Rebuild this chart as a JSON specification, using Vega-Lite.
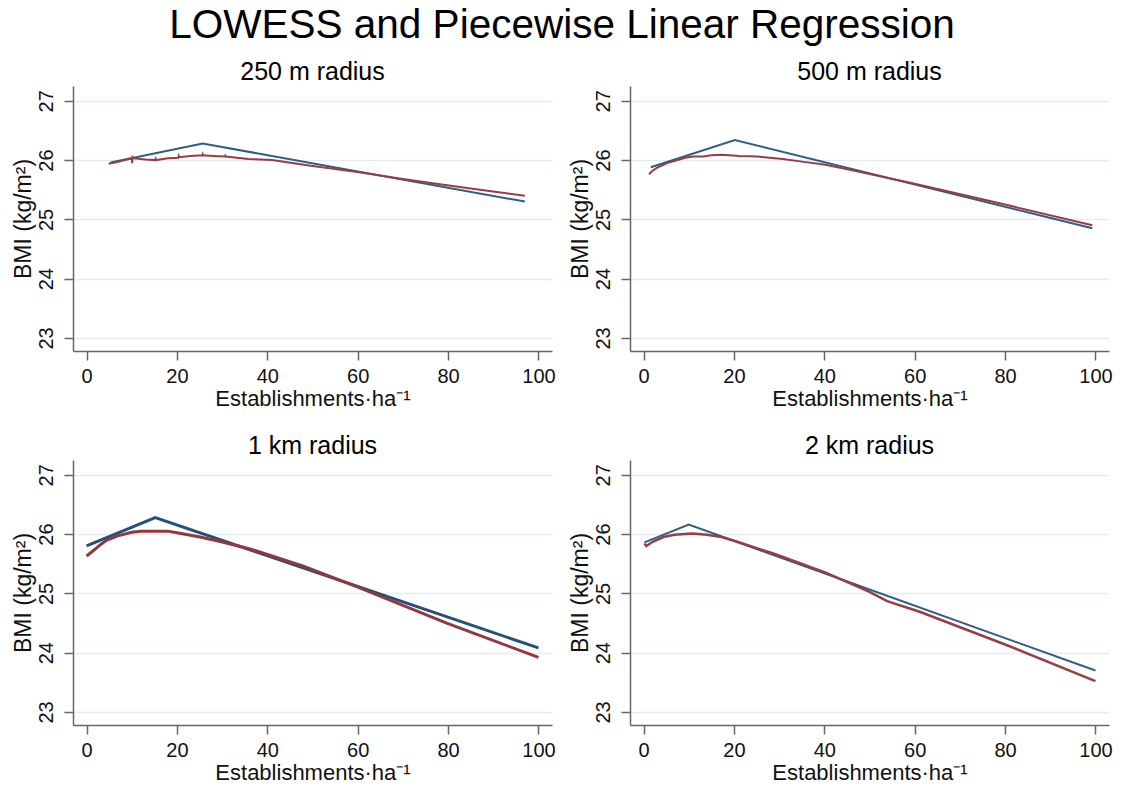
{
  "$schema": "https://vega.github.io/schema/vega-lite/v6.json",
  "background": "white",
  "padding": {"left": 11, "top": 5, "right": 5, "bottom": 5},
  "title": {"text": "LOWESS and Piecewise Linear Regression", "fontSize": 40.5, "font": "Liberation Sans", "fontWeight": "normal", "anchor": "middle", "color": "#000000", "offset": 14},
  "config": {
    "font": "Liberation Sans",
    "view": {"stroke": null},
    "title": {"fontSize": 25, "fontWeight": "normal", "font": "Liberation Sans", "color": "#000000", "offset": 1},
    "axis": {"domainColor": "#666666", "domainWidth": 1.5, "tickColor": "#666666", "tickWidth": 1.5, "tickSize": 9, "labelFontSize": 20, "titleFontSize": 22, "titleFontWeight": "normal", "labelColor": "#111111", "titleColor": "#111111", "labelFont": "Liberation Sans", "titleFont": "Liberation Sans", "labelFlush": false, "labelOverlap": false},
    "axisX": {"grid": false, "labelPadding": 6, "titlePadding": 2},
    "axisY": {"grid": true, "gridColor": "#e3edf0", "gridWidth": 1.5, "labelAngle": -90, "labelAlign": "center", "labelBaseline": "alphabetic", "labelPadding": 12, "titlePadding": 1, "titleFontSize": 23}
  },
  "data": {"values": [
    {"panel": "250 m radius", "series": "Piecewise", "i": 1, "x": 5.3, "y": 25.96},
    {"panel": "250 m radius", "series": "Piecewise", "i": 2, "x": 25.7, "y": 26.28},
    {"panel": "250 m radius", "series": "Piecewise", "i": 3, "x": 97, "y": 25.30},
    {"panel": "250 m radius", "series": "LOWESS", "i": 1, "x": 4.9, "y": 25.94},
    {"panel": "250 m radius", "series": "LOWESS", "i": 2, "x": 7, "y": 25.97},
    {"panel": "250 m radius", "series": "LOWESS", "i": 3, "x": 10, "y": 26.03},
    {"panel": "250 m radius", "series": "LOWESS", "i": 4, "x": 10.1, "y": 25.95},
    {"panel": "250 m radius", "series": "LOWESS", "i": 5, "x": 10.2, "y": 26.05},
    {"panel": "250 m radius", "series": "LOWESS", "i": 6, "x": 10.5, "y": 26.03},
    {"panel": "250 m radius", "series": "LOWESS", "i": 7, "x": 13, "y": 26.01},
    {"panel": "250 m radius", "series": "LOWESS", "i": 8, "x": 15.2, "y": 26.0},
    {"panel": "250 m radius", "series": "LOWESS", "i": 9, "x": 15.3, "y": 26.02},
    {"panel": "250 m radius", "series": "LOWESS", "i": 10, "x": 15.4, "y": 26.0},
    {"panel": "250 m radius", "series": "LOWESS", "i": 11, "x": 18, "y": 26.03},
    {"panel": "250 m radius", "series": "LOWESS", "i": 12, "x": 20.3, "y": 26.04},
    {"panel": "250 m radius", "series": "LOWESS", "i": 13, "x": 20.4, "y": 26.07},
    {"panel": "250 m radius", "series": "LOWESS", "i": 14, "x": 20.5, "y": 26.05},
    {"panel": "250 m radius", "series": "LOWESS", "i": 15, "x": 23, "y": 26.07},
    {"panel": "250 m radius", "series": "LOWESS", "i": 16, "x": 25.6, "y": 26.08},
    {"panel": "250 m radius", "series": "LOWESS", "i": 17, "x": 25.7, "y": 26.1},
    {"panel": "250 m radius", "series": "LOWESS", "i": 18, "x": 25.8, "y": 26.08},
    {"panel": "250 m radius", "series": "LOWESS", "i": 19, "x": 28, "y": 26.07},
    {"panel": "250 m radius", "series": "LOWESS", "i": 20, "x": 30.6, "y": 26.06},
    {"panel": "250 m radius", "series": "LOWESS", "i": 21, "x": 30.7, "y": 26.075},
    {"panel": "250 m radius", "series": "LOWESS", "i": 22, "x": 30.8, "y": 26.06},
    {"panel": "250 m radius", "series": "LOWESS", "i": 23, "x": 35.8, "y": 26.02},
    {"panel": "250 m radius", "series": "LOWESS", "i": 24, "x": 41, "y": 26.0},
    {"panel": "250 m radius", "series": "LOWESS", "i": 25, "x": 50, "y": 25.9},
    {"panel": "250 m radius", "series": "LOWESS", "i": 26, "x": 60, "y": 25.8},
    {"panel": "250 m radius", "series": "LOWESS", "i": 27, "x": 70, "y": 25.68},
    {"panel": "250 m radius", "series": "LOWESS", "i": 28, "x": 76.6, "y": 25.61},
    {"panel": "250 m radius", "series": "LOWESS", "i": 29, "x": 85, "y": 25.52},
    {"panel": "250 m radius", "series": "LOWESS", "i": 30, "x": 97, "y": 25.40},

    {"panel": "500 m radius", "series": "Piecewise", "i": 1, "x": 1.6, "y": 25.88},
    {"panel": "500 m radius", "series": "Piecewise", "i": 2, "x": 20.2, "y": 26.34},
    {"panel": "500 m radius", "series": "Piecewise", "i": 3, "x": 99.3, "y": 24.85},
    {"panel": "500 m radius", "series": "LOWESS", "i": 1, "x": 1.2, "y": 25.76},
    {"panel": "500 m radius", "series": "LOWESS", "i": 2, "x": 2, "y": 25.82},
    {"panel": "500 m radius", "series": "LOWESS", "i": 3, "x": 3.2, "y": 25.88},
    {"panel": "500 m radius", "series": "LOWESS", "i": 4, "x": 5.2, "y": 25.95},
    {"panel": "500 m radius", "series": "LOWESS", "i": 5, "x": 7, "y": 25.99},
    {"panel": "500 m radius", "series": "LOWESS", "i": 6, "x": 9.2, "y": 26.04},
    {"panel": "500 m radius", "series": "LOWESS", "i": 7, "x": 11, "y": 26.06},
    {"panel": "500 m radius", "series": "LOWESS", "i": 8, "x": 13.2, "y": 26.06},
    {"panel": "500 m radius", "series": "LOWESS", "i": 9, "x": 15, "y": 26.08},
    {"panel": "500 m radius", "series": "LOWESS", "i": 10, "x": 17.2, "y": 26.09},
    {"panel": "500 m radius", "series": "LOWESS", "i": 11, "x": 19, "y": 26.08},
    {"panel": "500 m radius", "series": "LOWESS", "i": 12, "x": 21.2, "y": 26.07},
    {"panel": "500 m radius", "series": "LOWESS", "i": 13, "x": 25.2, "y": 26.06},
    {"panel": "500 m radius", "series": "LOWESS", "i": 14, "x": 30.8, "y": 26.02},
    {"panel": "500 m radius", "series": "LOWESS", "i": 15, "x": 35.5, "y": 25.97},
    {"panel": "500 m radius", "series": "LOWESS", "i": 16, "x": 40.3, "y": 25.92},
    {"panel": "500 m radius", "series": "LOWESS", "i": 17, "x": 46.7, "y": 25.82},
    {"panel": "500 m radius", "series": "LOWESS", "i": 18, "x": 60, "y": 25.60},
    {"panel": "500 m radius", "series": "LOWESS", "i": 19, "x": 80, "y": 25.25},
    {"panel": "500 m radius", "series": "LOWESS", "i": 20, "x": 99.3, "y": 24.90},

    {"panel": "1 km radius", "series": "Piecewise", "i": 1, "x": 0, "y": 25.80},
    {"panel": "1 km radius", "series": "Piecewise", "i": 2, "x": 15.2, "y": 26.28},
    {"panel": "1 km radius", "series": "Piecewise", "i": 3, "x": 100, "y": 24.08},
    {"panel": "1 km radius", "series": "LOWESS", "i": 1, "x": 0, "y": 25.63},
    {"panel": "1 km radius", "series": "LOWESS", "i": 2, "x": 1, "y": 25.69},
    {"panel": "1 km radius", "series": "LOWESS", "i": 3, "x": 2.1, "y": 25.76},
    {"panel": "1 km radius", "series": "LOWESS", "i": 4, "x": 3.2, "y": 25.83},
    {"panel": "1 km radius", "series": "LOWESS", "i": 5, "x": 4.5, "y": 25.90},
    {"panel": "1 km radius", "series": "LOWESS", "i": 6, "x": 6.9, "y": 25.97},
    {"panel": "1 km radius", "series": "LOWESS", "i": 7, "x": 10, "y": 26.03},
    {"panel": "1 km radius", "series": "LOWESS", "i": 8, "x": 12, "y": 26.05},
    {"panel": "1 km radius", "series": "LOWESS", "i": 9, "x": 14.8, "y": 26.05},
    {"panel": "1 km radius", "series": "LOWESS", "i": 10, "x": 18, "y": 26.05},
    {"panel": "1 km radius", "series": "LOWESS", "i": 11, "x": 20.3, "y": 26.02},
    {"panel": "1 km radius", "series": "LOWESS", "i": 12, "x": 25.1, "y": 25.95},
    {"panel": "1 km radius", "series": "LOWESS", "i": 13, "x": 29.8, "y": 25.87},
    {"panel": "1 km radius", "series": "LOWESS", "i": 14, "x": 36.2, "y": 25.75},
    {"panel": "1 km radius", "series": "LOWESS", "i": 15, "x": 48, "y": 25.46},
    {"panel": "1 km radius", "series": "LOWESS", "i": 16, "x": 59.9, "y": 25.11},
    {"panel": "1 km radius", "series": "LOWESS", "i": 17, "x": 79.7, "y": 24.50},
    {"panel": "1 km radius", "series": "LOWESS", "i": 18, "x": 100, "y": 23.92},

    {"panel": "2 km radius", "series": "Piecewise", "i": 1, "x": 0.2, "y": 25.86},
    {"panel": "2 km radius", "series": "Piecewise", "i": 2, "x": 10, "y": 26.16},
    {"panel": "2 km radius", "series": "Piecewise", "i": 3, "x": 100, "y": 23.70},
    {"panel": "2 km radius", "series": "LOWESS", "i": 1, "x": 0.2, "y": 25.84},
    {"panel": "2 km radius", "series": "LOWESS", "i": 2, "x": 0.6, "y": 25.80},
    {"panel": "2 km radius", "series": "LOWESS", "i": 3, "x": 1.2, "y": 25.83},
    {"panel": "2 km radius", "series": "LOWESS", "i": 4, "x": 2, "y": 25.87},
    {"panel": "2 km radius", "series": "LOWESS", "i": 5, "x": 4.4, "y": 25.95},
    {"panel": "2 km radius", "series": "LOWESS", "i": 6, "x": 6.8, "y": 25.99},
    {"panel": "2 km radius", "series": "LOWESS", "i": 7, "x": 10.8, "y": 26.01},
    {"panel": "2 km radius", "series": "LOWESS", "i": 8, "x": 14, "y": 25.99},
    {"panel": "2 km radius", "series": "LOWESS", "i": 9, "x": 17.2, "y": 25.95},
    {"panel": "2 km radius", "series": "LOWESS", "i": 10, "x": 20.4, "y": 25.88},
    {"panel": "2 km radius", "series": "LOWESS", "i": 11, "x": 29.2, "y": 25.66},
    {"panel": "2 km radius", "series": "LOWESS", "i": 12, "x": 40.3, "y": 25.35},
    {"panel": "2 km radius", "series": "LOWESS", "i": 13, "x": 49.9, "y": 25.03},
    {"panel": "2 km radius", "series": "LOWESS", "i": 14, "x": 53.9, "y": 24.87},
    {"panel": "2 km radius", "series": "LOWESS", "i": 15, "x": 61.1, "y": 24.69},
    {"panel": "2 km radius", "series": "LOWESS", "i": 16, "x": 80.3, "y": 24.13},
    {"panel": "2 km radius", "series": "LOWESS", "i": 17, "x": 100, "y": 23.52}
  ]},
  "columns": 2,
  "bounds": "flush",
  "spacing": {"row": 109, "column": 78},
  "concat": [
    {
      "title": "250 m radius",
      "width": 479, "height": 265,
      "transform": [{"filter": "datum.panel == '250 m radius'"}],
      "encoding": {
        "x": {"field": "x", "type": "quantitative", "title": "Establishments·ha⁻¹", "scale": {"domain": [-3, 103], "nice": false, "zero": false}, "axis": {"values": [0, 20, 40, 60, 80, 100]}},
        "y": {"field": "y", "type": "quantitative", "title": "BMI (kg/m²)", "scale": {"domain": [22.78, 27.25], "nice": false, "zero": false}, "axis": {"values": [23, 24, 25, 26, 27]}},
        "order": {"field": "i", "type": "quantitative"}
      },
      "layer": [
        {"transform": [{"filter": "datum.series == 'Piecewise'"}], "mark": {"type": "line", "color": "#2f5d84", "strokeWidth": 2}},
        {"transform": [{"filter": "datum.series == 'LOWESS'"}], "mark": {"type": "line", "color": "#963d45", "strokeWidth": 2}}
      ]
    },
    {
      "title": "500 m radius",
      "width": 479, "height": 265,
      "transform": [{"filter": "datum.panel == '500 m radius'"}],
      "encoding": {
        "x": {"field": "x", "type": "quantitative", "title": "Establishments·ha⁻¹", "scale": {"domain": [-3, 103], "nice": false, "zero": false}, "axis": {"values": [0, 20, 40, 60, 80, 100]}},
        "y": {"field": "y", "type": "quantitative", "title": "BMI (kg/m²)", "scale": {"domain": [22.78, 27.25], "nice": false, "zero": false}, "axis": {"values": [23, 24, 25, 26, 27]}},
        "order": {"field": "i", "type": "quantitative"}
      },
      "layer": [
        {"transform": [{"filter": "datum.series == 'Piecewise'"}], "mark": {"type": "line", "color": "#2f5d84", "strokeWidth": 2}},
        {"transform": [{"filter": "datum.series == 'LOWESS'"}], "mark": {"type": "line", "color": "#963d45", "strokeWidth": 2}}
      ]
    },
    {
      "title": "1 km radius",
      "width": 479, "height": 265,
      "transform": [{"filter": "datum.panel == '1 km radius'"}],
      "encoding": {
        "x": {"field": "x", "type": "quantitative", "title": "Establishments·ha⁻¹", "scale": {"domain": [-3, 103], "nice": false, "zero": false}, "axis": {"values": [0, 20, 40, 60, 80, 100]}},
        "y": {"field": "y", "type": "quantitative", "title": "BMI (kg/m²)", "scale": {"domain": [22.78, 27.25], "nice": false, "zero": false}, "axis": {"values": [23, 24, 25, 26, 27]}},
        "order": {"field": "i", "type": "quantitative"}
      },
      "layer": [
        {"transform": [{"filter": "datum.series == 'Piecewise'"}], "mark": {"type": "line", "color": "#24507a", "strokeWidth": 3}},
        {"transform": [{"filter": "datum.series == 'LOWESS'"}], "mark": {"type": "line", "color": "#923740", "strokeWidth": 3}}
      ]
    },
    {
      "title": "2 km radius",
      "width": 479, "height": 265,
      "transform": [{"filter": "datum.panel == '2 km radius'"}],
      "encoding": {
        "x": {"field": "x", "type": "quantitative", "title": "Establishments·ha⁻¹", "scale": {"domain": [-3, 103], "nice": false, "zero": false}, "axis": {"values": [0, 20, 40, 60, 80, 100]}},
        "y": {"field": "y", "type": "quantitative", "title": "BMI (kg/m²)", "scale": {"domain": [22.78, 27.25], "nice": false, "zero": false}, "axis": {"values": [23, 24, 25, 26, 27]}},
        "order": {"field": "i", "type": "quantitative"}
      },
      "layer": [
        {"transform": [{"filter": "datum.series == 'Piecewise'"}], "mark": {"type": "line", "color": "#2f5d84", "strokeWidth": 2}},
        {"transform": [{"filter": "datum.series == 'LOWESS'"}], "mark": {"type": "line", "color": "#963d45", "strokeWidth": 2.5}}
      ]
    }
  ]
}
